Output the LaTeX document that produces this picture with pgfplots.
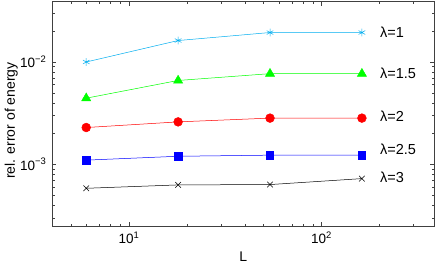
\documentclass[border=0pt]{standalone}
\usepackage{fontspec}
\setmainfont{Liberation Sans}
\usepackage{pgfplots}
\pgfplotsset{compat=1.18}
\begin{document}
\fontsize{14}{16}\selectfont
\begin{tikzpicture}
\begin{axis}[
 xmode=log, ymode=log, log basis x=10, log basis y=10,
 scale only axis, width=382pt, height=224.3pt,
 xmin=4, xmax=385, ymin=2.5e-4, ymax=0.0388,
 axis line style={black!75, line width=0.7pt},
 tick style={black!75, line width=0.4pt},
 major tick length=4pt, minor tick length=2.5pt,
 tick align=inside,
 xtick={10,100}, ytick={1e-3,1e-2},
 minor xtick={4,5,6,7,8,9,20,30,40,50,60,70,80,90,200,300},
 minor ytick={3e-4,4e-4,5e-4,6e-4,7e-4,8e-4,9e-4,2e-3,3e-3,4e-3,5e-3,6e-3,7e-3,8e-3,9e-3,2e-2,3e-2},
 xticklabel={10\textsuperscript{\pgfmathparse{int(round(\tick))}\pgfmathresult}},
 yticklabel={10\textsuperscript{−\pgfmathparse{int(round(abs(\tick)))}\pgfmathresult}},
 ticklabel style={font=\fontsize{13.5}{15}\selectfont},
 xticklabel style={yshift=-1pt},
 yticklabel style={xshift=-1pt},
 xlabel={L}, ylabel={rel. error of energy},
 label style={font=\fontsize{14}{16}\selectfont},
 xlabel style={at={(axis description cs:0.5,0)}, anchor=center, yshift=-30.5pt},
 ylabel style={at={(axis description cs:0,0.47)}, anchor=center, yshift=41pt},
 clip=false,
]
\addplot[cyan, line width=0.5pt, mark=asterisk, mark size=3.8pt] coordinates {(6,0.0100) (18,0.0162) (54,0.0194) (162,0.0194)};
\addplot[green, line width=0.5pt, mark=triangle*, mark size=5.2pt] coordinates {(6,0.00443) (18,0.0066) (54,0.00769) (162,0.00769)};
\addplot[red, line width=0.5pt, mark=*, mark size=4.4pt] coordinates {(6,0.00229) (18,0.0026) (54,0.00283) (162,0.00283)};
\addplot[blue, line width=0.5pt, mark=square*, mark size=3.7pt] coordinates {(6,0.00110) (18,0.00120) (54,0.00123) (162,0.00123)};
\addplot[black, line width=0.5pt, mark=x, mark size=4pt] coordinates {(6,0.000584) (18,0.00063) (54,0.000635) (162,0.000726)};
\node[anchor=west, inner sep=0pt, font=\fontsize{14.5}{16}\selectfont] at (axis cs:201,0.01954) {λ=1};
\node[anchor=west, inner sep=0pt, font=\fontsize{14.5}{16}\selectfont] at (axis cs:201,0.00782) {λ=1.5};
\node[anchor=west, inner sep=0pt, font=\fontsize{14.5}{16}\selectfont] at (axis cs:201,0.00292) {λ=2};
\node[anchor=west, inner sep=0pt, font=\fontsize{14.5}{16}\selectfont] at (axis cs:201,0.00140) {λ=2.5};
\node[anchor=west, inner sep=0pt, font=\fontsize{14.5}{16}\selectfont] at (axis cs:201,0.000748) {λ=3};
\coordinate (sw) at (rel axis cs:0,0);
\coordinate (ne) at (rel axis cs:1,1);
\end{axis}
\pgfresetboundingbox
\path ([xshift=-52.3pt,yshift=-39pt]sw) rectangle ([xshift=1.7pt,yshift=1.7pt]ne);
\end{tikzpicture}
\end{document}
